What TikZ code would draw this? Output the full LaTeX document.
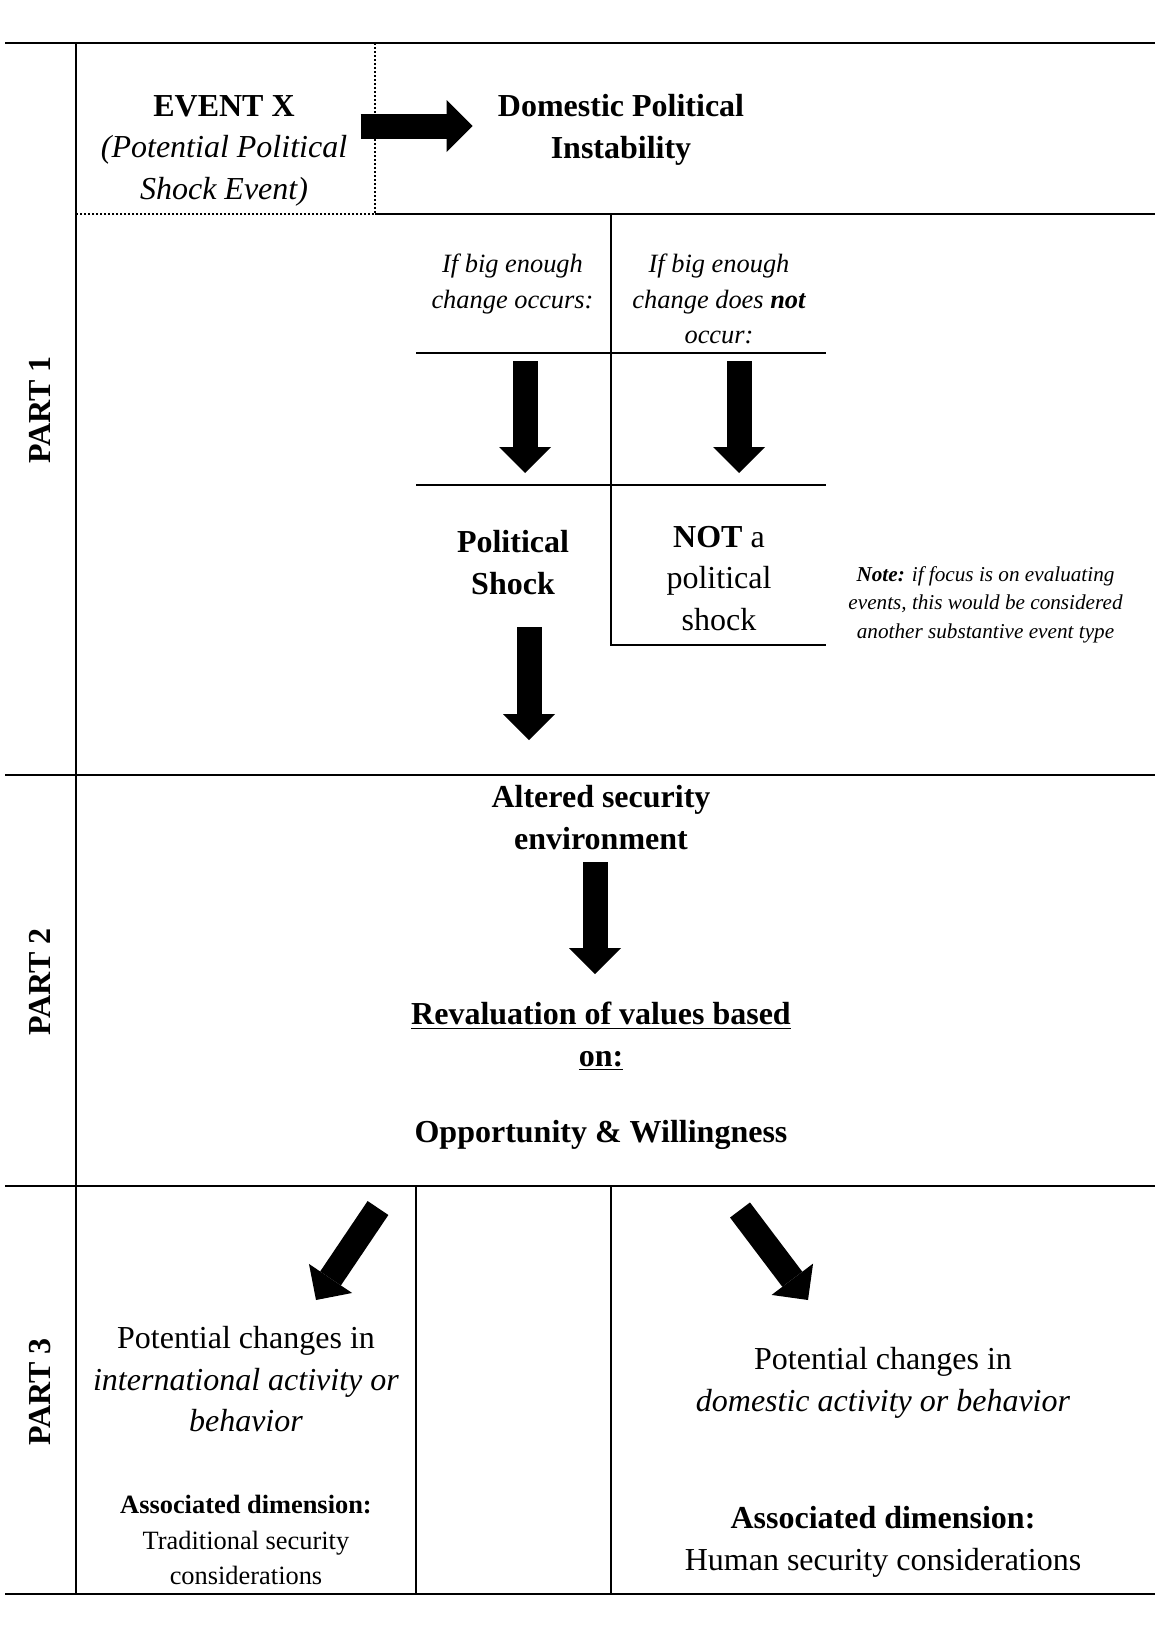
\documentclass[tikz,border=0pt]{standalone}
\usepackage{fontspec}
\setmainfont{Liberation Serif}
\usetikzlibrary{arrows.meta}
\newcommand{\bigtxt}{\fontsize{16}{20.9}\selectfont}
\newcommand{\midtxt}{\fontsize{13.2}{17.7}\selectfont}
\newcommand{\notetxt}{\fontsize{10.6}{14.3}\selectfont}

\begin{document}
\begin{tikzpicture}[x=0.5pt,y=-0.5pt,rule/.style={line width=1.1pt},dotrule/.style={line width=1.2pt,dash pattern=on 1pt off 1pt},cell/.style={align=center,inner sep=0pt,anchor=north,font=\bigtxt},part/.style={rotate=90,inner sep=0pt,font=\bigtxt\bfseries},bigarrow/.style={line width=12.5pt,-{Triangle[length=13pt,width=26pt,line width=0pt]}}]
  \fill[white] (0,0) rectangle (1160,1638);
  \useasboundingbox (0,0) rectangle (1160,1638);
  % table rules
  \draw[rule] (5,43) -- (1155,43);
  \draw[rule] (76,43) -- (76,1594);
  \draw[dotrule] (375,43) -- (375,214) -- (76,214);
  \draw[rule] (375,214) -- (1155,214);
  \draw[rule] (611,214) -- (611,645) -- (826,645);
  \draw[rule] (416,353) -- (826,353);
  \draw[rule] (416,485) -- (826,485);
  \draw[rule] (5,775) -- (1155,775);
  \draw[rule] (5,1186) -- (1155,1186);
  \draw[rule] (416,1186) -- (416,1594);
  \draw[rule] (611,1186) -- (611,1594);
  \draw[rule] (5,1594) -- (1155,1594);
  % part labels
  \node[part] (part1) at (40,410) {PART 1};
  \node[part] (part2) at (40,982) {PART 2};
  \node[part] (part3) at (40,1392) {PART 3};
  % part 1
  \node[cell] (eventx) at (224,94.8) {\textbf{EVENT X}\\\textit{(Potential Political}\\\textit{Shock Event)}};
  \node[cell,font=\bigtxt\bfseries] (instab) at (621,93.8) {Domestic Political\\Instability};
  \node[cell,font=\midtxt\itshape] (ifyes) at (512.5,253.7) {If big enough\\change occurs:};
  \node[cell,font=\midtxt\itshape] (ifno) at (719,253.7) {If big enough\\change does \textbf{not}\\occur:};
  \node[cell,font=\bigtxt\bfseries] (shock) at (513,530) {Political\\Shock};
  \node[cell] (notshock) at (719,525.5) {\textbf{NOT} a\\political\\shock};
  \node[cell,font=\notetxt\itshape] (note) at (985.5,566) {\textbf{Note:} if focus is on evaluating\\events, this would be considered\\another substantive event type};
  \coordinate (instabtail) at (360.7,126);
  \coordinate (instabtip) at (472.7,126);
  \coordinate (yestail) at (525,361);
  \coordinate (yestip) at (525,473);
  \coordinate (notail) at (739,361);
  \coordinate (notip) at (739,473);
  \coordinate (shocktail) at (529,627);
  \coordinate (shocktip) at (529,740);
  \draw[bigarrow] (instabtail) -- (instabtip);
  \draw[bigarrow] (yestail) -- (yestip);
  \draw[bigarrow] (notail) -- (notip);
  \draw[bigarrow] (shocktail) -- (shocktip);
  % part 2
  \node[cell,font=\bigtxt\bfseries] (altered) at (601,785) {Altered security\\environment};
  \node[cell,font=\bigtxt\bfseries] (revalue) at (601,1001.8) {\underline{Revaluation of values based}\\\underline{on:}};
  \node[cell,font=\bigtxt\bfseries,anchor=base] (oppwill) at (601,1142) {Opportunity \& Willingness};
  \coordinate (altertail) at (595,862);
  \coordinate (altertip) at (595,974);
  \draw[bigarrow] (altertail) -- (altertip);
  % part 3
  \node[cell] (intlchg) at (246,1325.6) {Potential changes in\\\textit{international activity or}\\\textit{behavior}};
  \node[cell,font=\midtxt] (intldim) at (246,1495) {\textbf{Associated dimension:}\\Traditional security\\considerations};
  \node[cell] (domchg) at (883,1346.6) {Potential changes in\\\textit{domestic activity or behavior}};
  \node[cell] (domdim) at (883,1506.3) {\textbf{Associated dimension:}\\Human security considerations};
  \coordinate (intltail) at (378,1208);
  \coordinate (intltip) at (316,1300);
  \coordinate (domtail) at (740,1210);
  \coordinate (domtip) at (808,1300);
  \draw[bigarrow] (intltail) -- (intltip);
  \draw[bigarrow] (domtail) -- (domtip);
\end{tikzpicture}
\end{document}
